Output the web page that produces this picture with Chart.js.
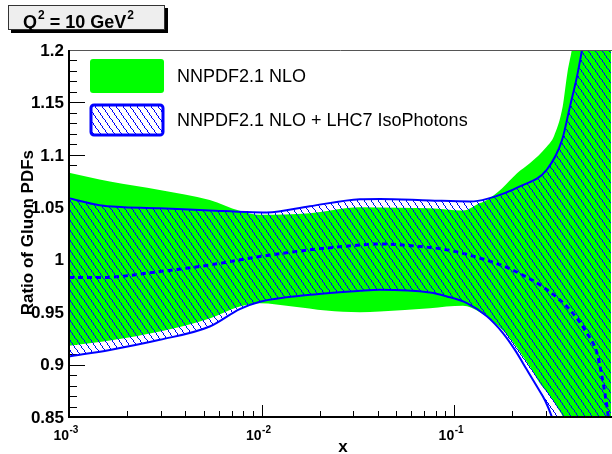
<!DOCTYPE html>
<html>
<head>
<meta charset="utf-8">
<title>Ratio of Gluon PDFs</title>
<script src="https://cdn.jsdelivr.net/npm/chart.js@4.4.0/dist/chart.umd.min.js"></script>
<style>
  html, body { margin: 0; padding: 0; background: #fff; }
</style>
</head>
<body>
<canvas id="myChart" width="612" height="454"></canvas>
<script>
// NNPDF2.1 NLO band, upper and lower edge
let nloUpX = [0.001, 0.00163, 0.00296, 0.00538, 0.0077, 0.0098, 0.0178, 0.0324, 0.0522, 0.0748, 0.111, 0.136, 0.148, 0.177, 0.212, 0.247, 0.303, 0.330, 0.366, 0.387, 0.408, 0.46, 0.66];
let nloUp = [1.083, 1.0745, 1.0666, 1.057, 1.0466, 1.0428, 1.0444, 1.050, 1.0495, 1.049, 1.0469, 1.054, 1.057, 1.068, 1.0825, 1.092, 1.108, 1.118, 1.146, 1.178, 1.2, 1.26, 1.45];
let nloDnX = [0.001, 0.00163, 0.00296, 0.00538, 0.0077, 0.0098, 0.0145, 0.0216, 0.0324, 0.0411, 0.0748, 0.111, 0.136, 0.1667, 0.1948, 0.2195, 0.2473, 0.2788, 0.3142, 0.3458, 0.367, 0.40, 0.66];
let nloDn = [0.918, 0.923, 0.9316, 0.944, 0.9554, 0.9586, 0.9554, 0.9516, 0.950, 0.9506, 0.9538, 0.956, 0.950, 0.938, 0.925, 0.912, 0.898, 0.882, 0.870, 0.858, 0.85, 0.83, 0.68];

// NNPDF2.1 NLO + LHC7 IsoPhotons band, upper and lower edge
let isoUpX = [0.001, 0.00144, 0.00296, 0.00538, 0.00838, 0.01064, 0.0178, 0.0324, 0.0411, 0.0748, 0.1207, 0.148, 0.2195, 0.303, 0.363, 0.399, 0.434, 0.461, 0.66];
let isoUp = [1.0587, 1.052, 1.049, 1.047, 1.0454, 1.045, 1.051, 1.0577, 1.058, 1.0565, 1.0555, 1.058, 1.070, 1.086, 1.114, 1.146, 1.1746, 1.2, 1.36];
let isoDnX = [0.001, 0.00163, 0.00296, 0.00538, 0.0077, 0.0098, 0.0178, 0.0324, 0.0411, 0.0748, 0.0917, 0.1164, 0.1479, 0.1791, 0.2067, 0.2386, 0.269, 0.296, 0.3218, 0.363, 0.66];
let isoDn = [0.9078, 0.914, 0.9236, 0.9363, 0.9529, 0.960, 0.9665, 0.9703, 0.9713, 0.9687, 0.965, 0.9586, 0.946, 0.930, 0.914, 0.895, 0.879, 0.866, 0.85, 0.82, 0.6];

// central value of the reweighted set
let centX = [0.001, 0.00144, 0.00296, 0.00538, 0.0098, 0.0178, 0.0324, 0.0411, 0.061, 0.0917, 0.136, 0.2018, 0.3032, 0.399, 0.489, 0.551, 0.585, 0.621, 0.66];
let cent = [0.983, 0.983, 0.9887, 0.995, 1.003, 1.0094, 1.014, 1.0151, 1.0132, 1.0094, 1.0015, 0.990, 0.9713, 0.9522, 0.930, 0.911, 0.8887, 0.860, 0.82];

// axis ticks and labels
let yTicks = [0.85, 0.9, 0.95, 1, 1.05, 1.1, 1.15, 1.2];
let yTickLabels = ["0.85", "0.9", "0.95", "1", "1.05", "1.1", "1.15", "1.2"];
let xDecades = [0.001, 0.01, 0.1];
let xExponents = ["-3", "-2", "-1"];

let legendLabels = ["NNPDF2.1 NLO", "NNPDF2.1 NLO + LHC7 IsoPhotons"];

const canvas = document.getElementById("myChart");
const ctx = canvas.getContext("2d");
const FONT = '"Liberation Sans", Arial, Helvetica, sans-serif';

// hatch fill: thin blue lines running steeply down to the right
let tile = document.createElement("canvas");
tile.width = 7;
tile.height = 10;
let tctx = tile.getContext("2d");
tctx.fillStyle = "#0000ff";
for (let i = 0; i < 10; i++) {
  tctx.fillRect(Math.floor(i * 0.7), i, 1, 1);
}
let hatch = ctx.createPattern(tile, "repeat");

function pairs(xs, ys) {
  return xs.map((x, i) => ({ x: x, y: ys[i] }));
}

function line(c, x1, y1, x2, y2) {
  c.beginPath();
  c.moveTo(x1, y1);
  c.lineTo(x2, y2);
  c.stroke();
}

// ROOT-like frame: ticks under the bands, axes, labels and legend on top
const rootFrame = {
  id: "rootFrame",
  beforeDatasetsDraw(chart) {
    let c = chart.ctx, a = chart.chartArea;
    let sx = chart.scales.x, sy = chart.scales.y;
    c.save();
    c.strokeStyle = "#000";
    c.lineWidth = 1;
    for (let v = 85; v <= 120; v++) {
      let y = Math.round(sy.getPixelForValue(v / 100)) + 0.5;
      let len = v % 5 == 0 ? 16 : 8;
      line(c, a.left, y, a.left + len, y);
    }
    xDecades.forEach(d => {
      for (let m = 1; m <= 9; m++) {
        let val = d * m;
        if (val > sx.max) break;
        let x = Math.round(sx.getPixelForValue(val)) + 0.5;
        line(c, x, a.bottom, x, a.bottom - (m == 1 ? 12 : 6));
      }
    });
    c.restore();
  },
  afterDatasetsDraw(chart) {
    let c = chart.ctx, a = chart.chartArea;
    let sx = chart.scales.x, sy = chart.scales.y;
    c.save();

    // frame
    c.strokeStyle = "#555";
    c.lineWidth = 1;
    line(c, a.left, a.top + 0.5, a.right + 1, a.top + 0.5);
    c.strokeStyle = "#000";
    c.lineWidth = 2;
    line(c, a.left, a.top, a.left, a.bottom + 1);
    line(c, a.left - 1, a.bottom, a.right + 1, a.bottom);

    // y tick labels
    c.fillStyle = "#000";
    c.font = "bold 17px " + FONT;
    c.textAlign = "right";
    c.textBaseline = "middle";
    yTicks.forEach((v, i) => {
      c.fillText(yTickLabels[i], 64, sy.getPixelForValue(v) + 1);
    });

    // x tick labels as powers of ten
    c.textBaseline = "alphabetic";
    xDecades.forEach((d, i) => {
      let x = sx.getPixelForValue(d);
      c.font = "bold 14px " + FONT;
      c.textAlign = "right";
      c.fillText("10", x, 440);
      c.font = "bold 10px " + FONT;
      c.textAlign = "left";
      c.fillText(xExponents[i], x + 0.5, 433);
    });

    // axis titles
    c.font = "bold 17px " + FONT;
    c.textAlign = "center";
    c.fillText("x", 343, 452);
    c.save();
    c.translate(33, 150);
    c.rotate(-Math.PI / 2);
    c.textAlign = "right";
    c.textBaseline = "alphabetic";
    c.fillText("Ratio of Gluon PDFs", 0, 0);
    c.restore();

    // legend
    c.fillStyle = "#00ff00";
    c.beginPath();
    c.roundRect(90, 59, 74, 34, 3);
    c.fill();
    c.fillStyle = hatch;
    c.beginPath();
    c.roundRect(91, 105, 72, 30, 3);
    c.fill();
    c.strokeStyle = "#0000ff";
    c.lineWidth = 3;
    c.stroke();
    c.fillStyle = "#000";
    c.font = "18px " + FONT;
    c.textAlign = "left";
    c.textBaseline = "middle";
    c.fillText(legendLabels[0], 177, 77);
    c.fillText(legendLabels[1], 177, 121);

    // scale box
    c.fillStyle = "#000";
    c.fillRect(11, 29, 157, 4);
    c.fillRect(164, 8, 4, 25);
    c.fillStyle = "#eeeeee";
    c.fillRect(8, 5, 156, 24);
    c.strokeStyle = "#333";
    c.lineWidth = 1;
    c.strokeRect(8.5, 5.5, 156, 24);
    c.fillStyle = "#000";
    c.textBaseline = "alphabetic";
    c.textAlign = "left";
    let tx = 23;
    c.font = "bold 18px " + FONT;
    c.fillText("Q", tx, 28);
    tx += c.measureText("Q").width;
    c.font = "bold 12px " + FONT;
    c.fillText("2", tx + 1, 19);
    tx += c.measureText("2").width + 1;
    c.font = "bold 18px " + FONT;
    c.fillText(" = 10 GeV", tx, 28);
    tx += c.measureText(" = 10 GeV").width;
    c.font = "bold 12px " + FONT;
    c.fillText("2", tx + 1, 19);

    c.restore();
  }
};

new Chart(ctx, {
  type: "line",
  data: {
    datasets: [
      {
        data: pairs(nloUpX, nloUp),
        borderColor: "rgba(0,0,0,0)",
        borderWidth: 1,
        fill: false,
        order: 6
      },
      {
        data: pairs(nloDnX, nloDn),
        borderColor: "rgba(0,0,0,0)",
        borderWidth: 1,
        backgroundColor: "#00ff00",
        fill: "-1",
        order: 5
      },
      {
        data: pairs(isoUpX, isoUp),
        borderColor: "#0000ff",
        borderWidth: 2,
        fill: false,
        order: 3
      },
      {
        data: pairs(isoDnX, isoDn),
        borderColor: "#0000ff",
        borderWidth: 2,
        backgroundColor: hatch,
        fill: "-1",
        order: 4
      },
      {
        data: pairs(centX, cent),
        borderColor: "#0000ff",
        borderWidth: 3,
        borderDash: [5, 4],
        fill: false,
        order: 1
      }
    ]
  },
  options: {
    responsive: false,
    animation: false,
    layout: { padding: { left: 69, top: 50, right: 1, bottom: 37 } },
    datasets: { line: { clip: 0, pointRadius: 0, cubicInterpolationMode: "monotone" } },
    scales: {
      x: { type: "logarithmic", min: 0.001, max: 0.652, display: false },
      y: { type: "linear", min: 0.85, max: 1.2, display: false }
    },
    plugins: {
      legend: { display: false },
      tooltip: { enabled: false }
    }
  },
  plugins: [rootFrame]
});
</script>
</body>
</html>
